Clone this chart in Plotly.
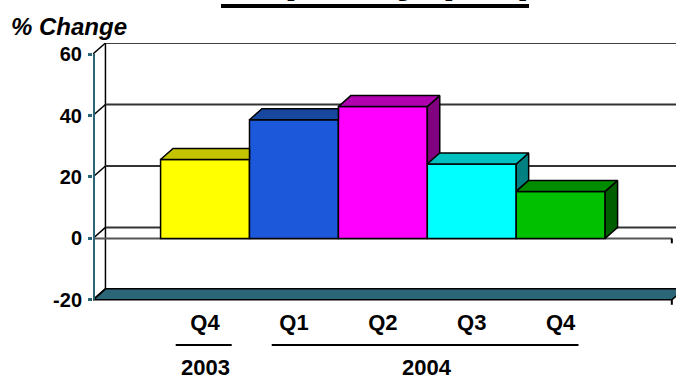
import plotly.graph_objects as go

# ---- data -------------------------------------------------------------
quarters = ["Q4", "Q1", "Q2", "Q3", "Q4"]
pct_change = [25.7, 38.6, 42.9, 24.2, 15.3]
years = ["2003", "2004"]
year_first_bar = [0, 1]
year_last_bar = [0, 4]
y_ticks = [-20, 0, 20, 40, 60]
y_tick_text = ["-20", "0", "20", "40", "60"]

# ---- styling ----------------------------------------------------------
front_colors = ["#FFFF00", "#1C58DA", "#FF00FF", "#00FFFF", "#00C000"]
top_colors = ["#C4C400", "#18479E", "#B000B0", "#00C0C0", "#008C00"]
side_colors = ["#808000", "#0F2F70", "#800080", "#008080", "#005E00"]

TEAL = "#2B6676"
FONT = "Liberation Sans, Arial, sans-serif"

DX = 0.14    # depth offset along the category axis
DY = 3.58    # depth offset along the value axis
X_LEFT = -1.26
X_RIGHT = 5.25
Y_FLOOR = -20
Y_TOP = 60

W, H = 676, 381
ML, MR, MT, MB = 93, 0, 43, 75
PW, PH = W - ML - MR, H - MT - MB


def px_x(px):
    return (px - ML) / PW


def px_y(py):
    return 1 + (MT - py) / PH


xs = list(range(len(quarters)))
n = len(xs)

fig = go.Figure()

# front faces of the columns
fig.add_trace(go.Bar(
    x=xs, y=pct_change, width=1.0,
    marker=dict(color=front_colors, line=dict(color="black", width=1.5)),
    hoverinfo="skip", showlegend=False,
))

# top and right-hand faces, hidden parts removed
for i, v in enumerate(pct_change):
    x0, x1 = i - 0.5, i + 0.5
    nxt = pct_change[i + 1] if i + 1 < n else None
    if nxt is not None and nxt >= v:
        tx = [x0, x1, x1, x0 + DX, x0]
        ty = [v, v, v + DY, v + DY, v]
    else:
        tx = [x0, x1, x1 + DX, x0 + DX, x0]
        ty = [v, v, v + DY, v + DY, v]
        lo = 0 if nxt is None else nxt
        fig.add_trace(go.Scatter(
            x=[x1, x1, x1 + DX, x1 + DX, x1],
            y=[lo, v, v + DY, lo + DY, lo],
            fill="toself", fillcolor=side_colors[i], mode="lines",
            line=dict(color="black", width=1.5),
            hoverinfo="skip", showlegend=False,
        ))
    fig.add_trace(go.Scatter(
        x=tx, y=ty, fill="toself", fillcolor=top_colors[i], mode="lines",
        line=dict(color="black", width=1.5),
        hoverinfo="skip", showlegend=False,
    ))

shapes = []
# floor slab
shapes.append(dict(
    type="path", xref="x", yref="y", layer="below",
    path=(f"M{X_LEFT},{Y_FLOOR} L{X_RIGHT},{Y_FLOOR} "
          f"L{X_RIGHT + DX},{Y_FLOOR + DY} L{X_LEFT + DX},{Y_FLOOR + DY} Z"),
    fillcolor=TEAL, line=dict(color="black", width=1.5),
))
# back wall edges
shapes.append(dict(type="line", xref="x", yref="y", layer="below",
                   x0=X_LEFT + DX, y0=Y_FLOOR + DY, x1=X_LEFT + DX, y1=Y_TOP + DY,
                   line=dict(color="black", width=1.5)))
shapes.append(dict(type="line", xref="x", yref="y", layer="below",
                   x0=X_LEFT + DX, y0=Y_TOP + DY, x1=X_RIGHT + DX, y1=Y_TOP + DY,
                   line=dict(color="black", width=1.5)))
# gridlines on the back wall
for t in y_ticks[1:-1]:
    shapes.append(dict(type="line", xref="x", yref="y", layer="below",
                       x0=X_LEFT + DX, y0=t + DY, x1=X_RIGHT + DX, y1=t + DY,
                       line=dict(color="#333333", width=2)))
# side-wall diagonals from each tick
for t in y_ticks:
    shapes.append(dict(type="line", xref="x", yref="y", layer="below",
                       x0=X_LEFT, y0=t, x1=X_LEFT + DX, y1=t + DY,
                       line=dict(color="black", width=1.5)))
# zero plane front edge
shapes.append(dict(type="line", xref="x", yref="y", layer="below",
                   x0=X_LEFT, y0=0, x1=X_RIGHT, y1=0,
                   line=dict(color="#555555", width=2)))
# small corner ticks on the right edge
for t in (0, Y_FLOOR):
    shapes.append(dict(type="line", xref="x", yref="y", layer="above",
                       x0=X_RIGHT, y0=t, x1=X_RIGHT, y1=t - 1.6,
                       line=dict(color="black", width=2)))
# front value axis
shapes.append(dict(type="line", xref="x", yref="y", layer="above",
                   x0=X_LEFT, y0=Y_FLOOR, x1=X_LEFT, y1=Y_TOP,
                   line=dict(color=TEAL, width=4)))
# rules under the quarter labels, one per year
for a, b in zip(year_first_bar, year_last_bar):
    shapes.append(dict(type="line", xref="x", yref="paper",
                       x0=a - 0.33 if a == b else a - 0.25,
                       x1=b + 0.3 if a == b else b + 0.2,
                       y0=px_y(345), y1=px_y(345),
                       line=dict(color="black", width=2)))
# title underline
shapes.append(dict(type="line", xref="paper", yref="paper",
                   x0=px_x(221), x1=px_x(529), y0=px_y(6), y1=px_y(6),
                   line=dict(color="black", width=4)))

annotations = []
for yr, a, b in zip(years, year_first_bar, year_last_bar):
    annotations.append(dict(
        text=yr, xref="x", yref="paper", x=(a + b) / 2, y=px_y(367),
        xanchor="center", yanchor="middle", showarrow=False,
        font=dict(family=FONT, size=22, color="black", weight="bold"),
    ))
annotations.append(dict(
    text="<i>% Change</i>", xref="paper", yref="paper", x=px_x(9), y=px_y(26),
    xanchor="left", yanchor="middle", showarrow=False,
    font=dict(family=FONT, size=24, color="black", weight="bold"),
))
annotations.append(dict(
    text="Capacity (US)", xref="paper", yref="paper", x=px_x(221), y=px_y(3),
    xanchor="left", yanchor="bottom", showarrow=False,
    font=dict(family=FONT, size=48, color="black", weight="bold"),
))

fig.update_layout(
    width=W, height=H,
    margin=dict(l=ML, r=MR, t=MT, b=MB),
    paper_bgcolor="white", plot_bgcolor="white",
    showlegend=False,
    shapes=shapes, annotations=annotations,
    xaxis=dict(
        range=[X_LEFT, (W - 205.1) / 88.9], showgrid=False, zeroline=False,
        showline=False, tickvals=xs, ticktext=quarters, ticks="",
        tickfont=dict(family=FONT, size=22, color="black", weight="bold"),
        ticklabelstandoff=1,
    ),
    yaxis=dict(
        range=[-22, Y_TOP + DY + 0.02], showgrid=False, zeroline=False, showline=False,
        tickvals=y_ticks, ticktext=y_tick_text,
        ticks="outside", ticklen=4, tickwidth=3, tickcolor=TEAL,
        tickfont=dict(family=FONT, size=20, color="black", weight="bold"),
        ticklabelstandoff=2,
    ),
)

fig.write_html("out.html")
